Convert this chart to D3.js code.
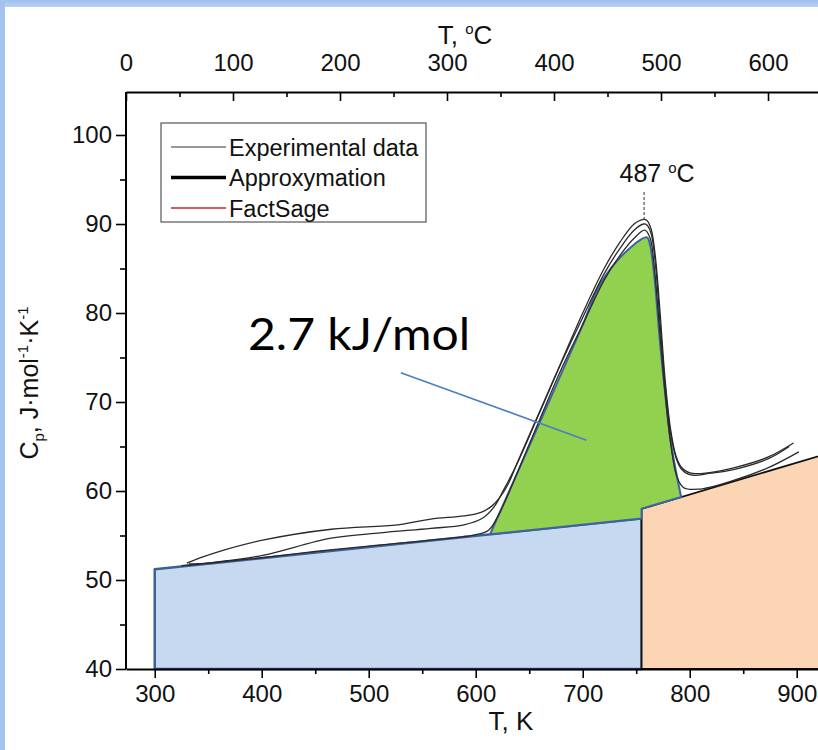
<!DOCTYPE html>
<html>
<head>
<meta charset="utf-8">
<script src="https://cdn.jsdelivr.net/npm/d3@7"></script>
<style>
  html, body { margin: 0; padding: 0; background: #fff; }
  svg { display: block; }
  text { font-family: "Liberation Sans", Arial, sans-serif; fill: #111; }
</style>
</head>
<body>
<svg id="chart" width="818" height="750"></svg>
<script>
// ---- data ----
// Experimental heat-capacity runs: temperature (K) and Cp (J/mol/K)
const expA_T  = [330, 345, 360, 402, 465, 527, 558, 589, 605, 615, 622, 630, 640, 660, 680, 700, 720, 735, 748, 756, 760, 764, 768, 772, 777, 782, 787, 792, 801, 820, 841, 873, 897];
const expA_Cp = [51.9, 52.6, 53.2, 54.5, 55.7, 56.2, 56.85, 57.2, 57.6, 58.3, 59.2, 60.7, 63.5, 69.0, 74.5, 80.0, 85.0, 88.0, 90.0, 90.5, 90.4, 89.4, 86.2, 80.5, 72.5, 67.0, 64.0, 62.7, 62.0, 62.1, 62.6, 63.8, 65.4];

const expB_T  = [332, 350, 370, 402, 465, 511, 558, 589, 607, 617, 626, 640, 660, 680, 700, 720, 735, 748, 757, 760, 764, 768, 772, 777, 782, 787, 792, 801, 820, 841, 873, 893];
const expB_Cp = [51.8, 51.9, 52.2, 52.8, 54.7, 55.3, 55.8, 56.2, 57.0, 58.2, 60.1, 63.4, 68.9, 74.4, 79.5, 84.4, 87.3, 89.3, 90.0, 89.9, 88.9, 85.4, 79.3, 71.8, 66.6, 63.8, 62.5, 61.8, 62.0, 62.4, 63.6, 65.0];

const expC_T  = [325, 360, 400, 450, 500, 560, 600, 612, 620, 628, 640, 660, 680, 700, 720, 735, 748, 758, 763, 767, 772, 777, 782, 788, 794, 808, 841, 873, 902];
const expC_Cp = [51.6, 52.0, 52.5, 53.2, 53.8, 54.5, 55.1, 55.6, 57.0, 59.0, 62.4, 68.1, 73.7, 78.7, 83.7, 86.5, 88.4, 89.3, 88.4, 85.0, 78.0, 71.0, 65.5, 61.6, 60.4, 60.2, 61.2, 62.6, 64.4];

// Lattice (baseline) heat capacity below and above the transition
const baseLow_T   = [300, 755];
const baseLow_Cp  = [51.2, 56.9];
const baseHigh_T  = [755, 930];
const baseHigh_Cp = [58.0, 64.25];

// Excess heat capacity of the transition (area = 2.7 kJ/mol), traced from the
// high-temperature foot over the maximum down to the low-temperature foot
const peakEdge_T  = [792, 783, 777, 772, 767, 763, 760, 745, 717, 698, 614];
const peakEdge_Cp = [59.3, 65.0, 71.0, 77.0, 84.0, 87.6, 88.5, 87.4, 83.4, 78.1, 55.3];

const cpMin = 40;
const peakC = 487;   // transition temperature, °C
const enthalpyLabel = "2.7 kJ/mol";

const yTicks   = [40, 50, 60, 70, 80, 90, 100];
const yMinor   = [45, 55, 65, 75, 85, 95];
const kTicks   = [300, 400, 500, 600, 700, 800, 900];
const kMinor   = [350, 450, 550, 650, 750, 850];
const cTicks   = [0, 100, 200, 300, 400, 500, 600];
const cMinor   = [50, 150, 250, 350, 450, 550, 650];

const legendItems = [
  { label: "Experimental data", color: "#333", width: 1 },
  { label: "Approxymation", color: "#000", width: 3.5 },
  { label: "FactSage", color: "#d02020", width: 1.5 }
];

// ---- layout ----
const svg = d3.select("#chart");
const W = 818, H = 750;
const plotLeft = 126, plotBottom = 669, plotTop = 92;
const pxPerK = 1.07;
const x = d3.scaleLinear().domain([273.15, 930]).range([plotLeft, plotLeft + (930 - 273.15) * pxPerK]);
const y = d3.scaleLinear().domain([40, 100]).range([plotBottom, 135]);
const xC = d3.scaleLinear().domain([0, 930 - 273.15]).range(x.range());
const tickFont = "24px";

// page frame
const defs = svg.append("defs");
const g1 = defs.append("linearGradient").attr("id", "topband").attr("x1", 0).attr("y1", 0).attr("x2", 0).attr("y2", 1);
g1.append("stop").attr("offset", "0%").attr("stop-color", "#9dbfec");
g1.append("stop").attr("offset", "100%").attr("stop-color", "#b9d2f3");
svg.append("rect").attr("x", 0).attr("y", 0).attr("width", W).attr("height", H).attr("fill", "#fff");
svg.append("rect").attr("x", 0).attr("y", 0).attr("width", W).attr("height", 7).attr("fill", "url(#topband)");
svg.append("rect").attr("x", 0).attr("y", 0).attr("width", 5).attr("height", H).attr("fill", "#a3c3ee");

const zip = (T, C) => T.map((t, i) => [t, C[i]]);
const line = d3.line().x(d => x(d[0])).y(d => y(d[1]));
const curve = d3.line().x(d => x(d[0])).y(d => y(d[1])).curve(d3.curveCatmullRom.alpha(0.5));

// baseline area below transition
const low = zip(baseLow_T, baseLow_Cp);
svg.append("path")
  .attr("d", line([[low[0][0], cpMin], ...low, [low[1][0], cpMin]]) + "Z")
  .attr("fill", "#c6d9f1").attr("stroke", "#3c5f97").attr("stroke-width", 2.5).attr("stroke-linejoin", "round");

// baseline area above transition
const high = zip(baseHigh_T, baseHigh_Cp);
svg.append("path")
  .attr("d", line([[high[0][0], cpMin], ...high, [high[1][0], cpMin]]) + "Z")
  .attr("fill", "#fbd5b4").attr("stroke", "#111").attr("stroke-width", 1.8);

// transition peak area: straight baseline segments, smooth peak outline
const baseAt = (t, T, C) => C[0] + (t - T[0]) * (C[1] - C[0]) / (T[1] - T[0]);
const edge = zip(peakEdge_T, peakEdge_Cp);
const t0 = peakEdge_T[peakEdge_T.length - 1];
const t1 = peakEdge_T[0];
const basePts = [
  [t0, baseAt(t0, baseLow_T, baseLow_Cp)],
  [baseLow_T[1], baseLow_Cp[1]],
  [baseHigh_T[0], baseHigh_Cp[0]],
  [t1, baseAt(t1, baseHigh_T, baseHigh_Cp)]
];
svg.append("path")
  .attr("d", line(basePts) + curve(edge).replace(/^M/, "L") + "Z")
  .attr("fill", "#92d050").attr("stroke", "#3d63a0").attr("stroke-width", 2).attr("stroke-linejoin", "round");

// experimental curves
[zip(expA_T, expA_Cp), zip(expB_T, expB_Cp), zip(expC_T, expC_Cp)].forEach(pts => {
  svg.append("path").attr("d", curve(pts))
    .attr("fill", "none").attr("stroke", "#2a2a2a").attr("stroke-width", 1.3);
});

// annotation of the transition enthalpy
svg.append("text").attr("x", 248).attr("y", 350)
  .attr("textLength", 222).attr("lengthAdjust", "spacingAndGlyphs")
  .style("font-family", "Lato, 'Open Sans', sans-serif").style("font-size", "45px").style("fill", "#000")
  .text(enthalpyLabel);
svg.append("line")
  .attr("x1", x(530)).attr("y1", y(73.3)).attr("x2", x(703.5)).attr("y2", y(65.7))
  .attr("stroke", "#4a7ec2").attr("stroke-width", 1.6);

// peak marker
const peakK = peakC + 273.15;
svg.append("line")
  .attr("x1", x(peakK) - 3).attr("x2", x(peakK) - 3)
  .attr("y1", 192).attr("y2", y(90.4))
  .attr("stroke", "#333").attr("stroke-width", 1).attr("stroke-dasharray", "3,2");
const pk = svg.append("text").attr("x", x(peakK) + 10).attr("y", 182)
  .attr("text-anchor", "middle").style("font-size", "25px");
pk.append("tspan").text(peakC + " ");
pk.append("tspan").attr("dy", -9).style("font-size", "15px").text("o");
pk.append("tspan").attr("dy", 9).text("C");

// ---- axes ----
const axisStyle = (g) => {
  g.selectAll(".domain").attr("stroke", "#000").attr("stroke-width", 2);
  g.selectAll(".tick line").attr("stroke", "#000").attr("stroke-width", 1.6);
  g.selectAll(".tick text").style("font-family", "'Liberation Sans', Arial, sans-serif").style("font-size", tickFont).attr("fill", "#111");
};

// left axis
const ya = svg.append("g").attr("transform", `translate(${plotLeft},0)`)
  .call(d3.axisLeft(y).tickValues(yTicks).tickSize(10).tickPadding(4).tickSizeOuter(0));
ya.select(".domain").attr("d", `M0,${plotBottom}V${plotTop}`);
axisStyle(ya);
svg.append("g").attr("transform", `translate(${plotLeft},0)`)
  .call(d3.axisLeft(y).tickValues(yMinor).tickSize(6).tickFormat("").tickSizeOuter(0))
  .call(g => g.select(".domain").remove()).call(axisStyle);

// bottom axis (K)
const xa = svg.append("g").attr("transform", `translate(0,${plotBottom})`)
  .call(d3.axisBottom(x).tickValues(kTicks).tickSize(9).tickPadding(7).tickSizeOuter(0));
axisStyle(xa);
svg.append("g").attr("transform", `translate(0,${plotBottom})`)
  .call(d3.axisBottom(x).tickValues(kMinor).tickSize(5).tickFormat("").tickSizeOuter(0))
  .call(g => g.select(".domain").remove()).call(axisStyle);

// top axis (°C), ticks pointing into the plot
const ta = svg.append("g").attr("transform", `translate(0,${plotTop})`)
  .call(d3.axisTop(xC).tickValues(cTicks).tickSize(-9).tickPadding(21).tickSizeOuter(0));
axisStyle(ta);
svg.append("g").attr("transform", `translate(0,${plotTop})`)
  .call(d3.axisTop(xC).tickValues(cMinor).tickSize(-5).tickFormat("").tickSizeOuter(0))
  .call(g => g.select(".domain").remove()).call(axisStyle);

// axis titles
svg.append("text").attr("x", 511).attr("y", 730).attr("text-anchor", "middle")
  .style("font-size", "26px").text("T, K");
const tt = svg.append("text").attr("x", 465).attr("y", 44).attr("text-anchor", "middle").style("font-size", "26px");
tt.append("tspan").text("T, ");
tt.append("tspan").attr("dy", -10).style("font-size", "15px").text("o");
tt.append("tspan").attr("dy", 10).text("C");

const yl = svg.append("text").attr("transform", "translate(38,383) rotate(-90)")
  .attr("text-anchor", "middle").style("font-size", "25px");
yl.append("tspan").text("C");
yl.append("tspan").attr("dy", 6).style("font-size", "15px").text("p");
yl.append("tspan").attr("dy", -6).text(", J·mol");
yl.append("tspan").attr("dy", -10).style("font-size", "15px").text("-1");
yl.append("tspan").attr("dy", 10).text("·K");
yl.append("tspan").attr("dy", -10).style("font-size", "15px").text("-1");

// ---- legend ----
const lg = svg.append("g");
lg.append("rect").attr("x", 161).attr("y", 123).attr("width", 265).attr("height", 99)
  .attr("fill", "#fff").attr("stroke", "#555").attr("stroke-width", 1.2);
legendItems.forEach((d, i) => {
  const cy = 147 + i * 30.5;
  lg.append("line").attr("x1", 171).attr("x2", 226).attr("y1", cy).attr("y2", cy)
    .attr("stroke", d.color).attr("stroke-width", d.width);
  lg.append("text").attr("x", 229).attr("y", cy + 8.5).style("font-size", "23.5px").text(d.label);
});
</script>
</body>
</html>
